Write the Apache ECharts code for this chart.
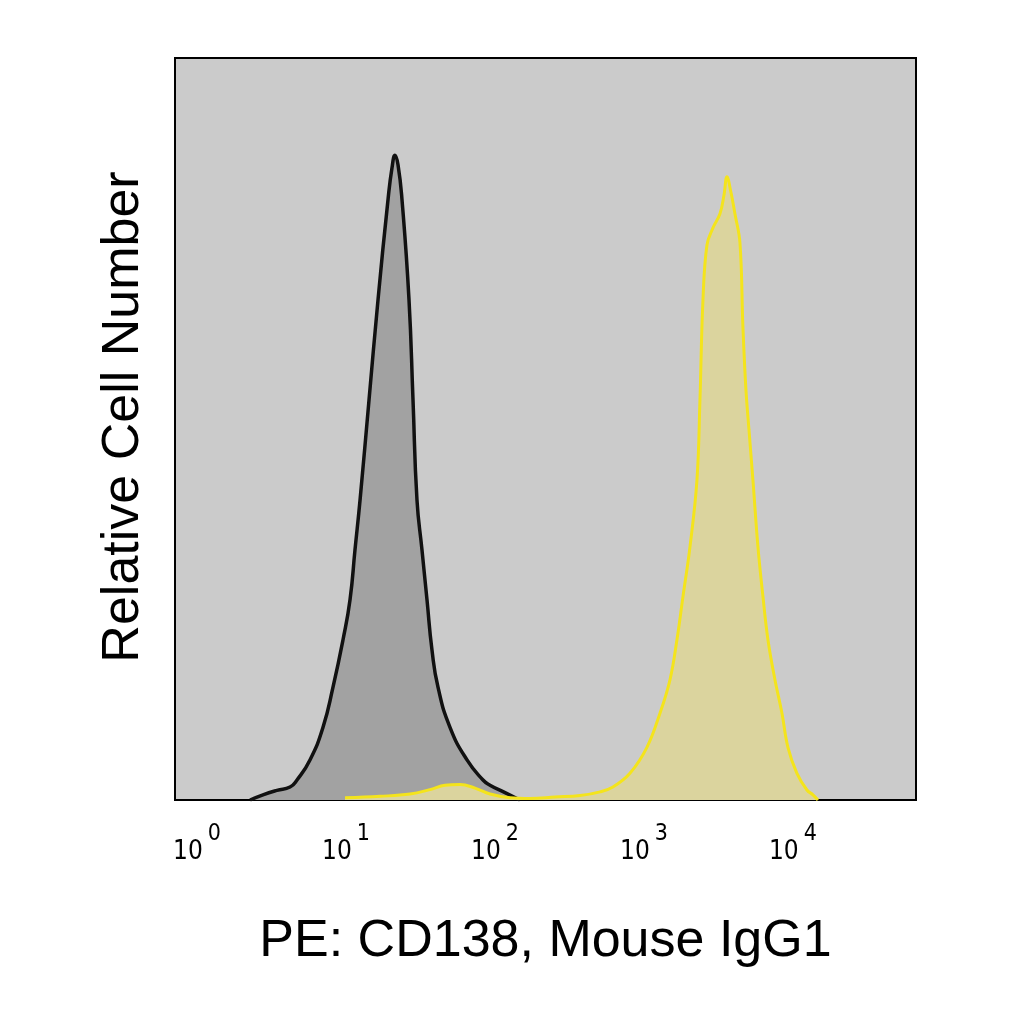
<!DOCTYPE html>
<html>
<head>
<meta charset="utf-8">
<script src="https://cdn.jsdelivr.net/npm/echarts@6/dist/echarts.min.js"></script>
<style>
html,body{margin:0;padding:0;background:#fff;}
#chart{width:1024px;height:1024px;}
</style>
</head>
<body>
<div id="chart"></div>
<script>
// Isotype control (black) histogram: fluorescence intensity vs relative count
const isoX = [2.27,2.77,3.44,4.21,4.69,5.73,7.01,8.18,9.55,10.64,11.49,12.42,14.27,16.40,19.14,20.36,21.33,22.34,23.76,26.48,28.17,29.96,32.36,34.96,37.78,41.45,49.89,64.89,83.1,92.6,116.8,147];
const isoY = [0,0.7,1.3,1.75,2.7,5.4,9.8,15.2,21.6,27.0,33.7,40.4,53.9,67.4,80.9,85.2,86.9,85.6,80.9,67.4,53.9,40.4,33.7,27.0,20.2,15.2,9.8,5.4,2.7,2.0,1.0,0];
// CD138 stained (yellow) histogram
const cdX = [9.85,16.9,26.9,36.6,46.2,58.2,73.4,92.6,126,172,253,372,507,619,805,1047,1281,1495,1665,1827,2036,2268,2376,2489,2648,2905,3237,3443,3606,3836,4080,4409,4617,4836,5068,5389,5823,6291,6796,7573,8440,9256,10637,12416,13623,14720];
const cdY = [0.3,0.5,0.8,1.4,2.0,2.1,1.6,0.8,0.3,0.2,0.4,0.6,1.1,1.75,3.6,7.1,11.7,16.2,21.6,27.4,34.1,43.1,53.9,67.4,74.8,77.1,79.0,81.5,84.0,81.9,79.0,75.1,63.7,55.3,49.9,43.1,34.1,27.4,21.6,16.2,11.7,7.1,3.6,1.35,0.7,0];
// Decade tick positions and exponents
const tickValues = [1,10,100,1000,10000];
const tickExp = ['0','1','2','3','4'];
const xTitle = 'PE: CD138, Mouse IgG1';
const yTitle = 'Relative Cell Number';

const zip = (xs, ys) => xs.map((x, i) => [x, ys[i]]);
const tickFont = '"Liberation Sans Narrow","DejaVu Sans Condensed",sans-serif';
const chart = echarts.init(document.getElementById('chart'));
chart.setOption({
  animation: false,
  grid: {left: 175, right: 108, top: 58, bottom: 224, show: true,
         backgroundColor: '#cbcbcb', borderColor: '#000', borderWidth: 2},
  xAxis: {
    type: 'log', logBase: 10, min: 0.7115, max: 66990,
    axisLine: {show: false}, axisTick: {show: false}, splitLine: {show: false},
    minorTick: {show: false},
    axisLabel: {
      customValues: tickValues,
      margin: 23,
      verticalAlign: 'top',
      formatter: v => '{b|10}{s|' + tickExp[tickValues.indexOf(Math.round(v))] + '}',
      rich: {
        b: {fontFamily: tickFont, fontSize: 26, lineHeight: 26, color: '#000', verticalAlign: 'top', padding: [16,0,0,0]},
        s: {fontFamily: tickFont, fontSize: 23, lineHeight: 23, color: '#000', verticalAlign: 'top', padding: [0,0,0,5]}
      }
    },
    name: xTitle, nameLocation: 'middle', nameGap: 116,
    nameTextStyle: {fontFamily: '"Liberation Sans",Arial,sans-serif', fontSize: 52, color: '#000'}
  },
  yAxis: {
    type: 'value', min: 0, max: 100,
    axisLine: {show: false}, axisTick: {show: false}, axisLabel: {show: false}, splitLine: {show: false},
    name: yTitle, nameLocation: 'middle', nameGap: 25, nameRotate: 90,
    nameTextStyle: {fontFamily: '"Liberation Sans",Arial,sans-serif', fontSize: 52, color: '#000', padding: [0,0,0,24]}
  },
  series: [
    {type: 'line', data: zip(isoX, isoY), smooth: 0.5, symbol: 'none',
     lineStyle: {color: '#111', width: 3.5}, areaStyle: {color: '#a2a2a2', opacity: 1}, z: 2},
    {type: 'line', data: zip(cdX, cdY), smooth: 0.4, symbol: 'none',
     lineStyle: {color: '#f4e41c', width: 3}, areaStyle: {color: '#dbd49e', opacity: 1}, z: 3}
  ]
});
</script>
</body>
</html>
